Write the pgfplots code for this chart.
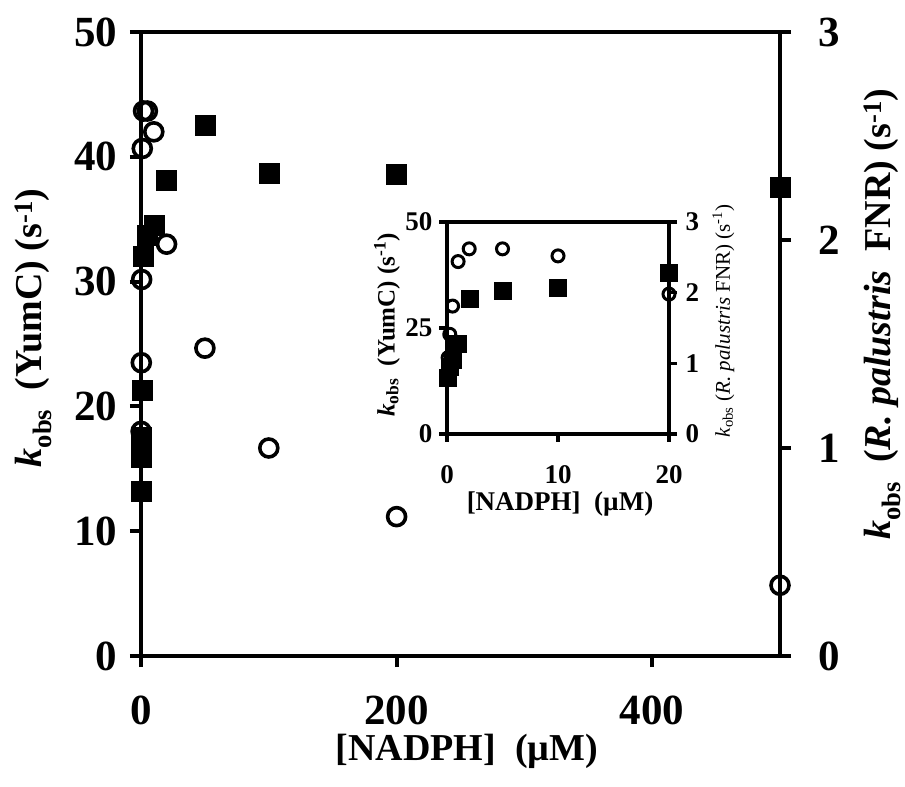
\documentclass[border=0pt]{standalone}
\usepackage{fontspec}
\setmainfont{Liberation Serif}
\usepackage{pgfplots}
\pgfplotsset{compat=1.18}

% k_obs rates versus NADPH concentration
\pgfplotstableread{
x     y
0.1   13.2
0.25  15.9
0.5   17.5
1     21.3
2     32.0
5     33.7
10    34.5
20    38.1
50    42.5
100   38.7
200   38.6
500   37.6
}\yumc
\pgfplotstableread{
x     y
0.1   1.08
0.25  1.41
0.5   1.81
1     2.44
2     2.62
5     2.62
10    2.52
20    1.98
50    1.48
100   1.00
200   0.67
500   0.34
}\fnr

\newcommand{\kobs}{\textit{k}\textsubscript{obs}}

\pgfplotsset{
  common/.style={
    scale only axis, anchor=south west, clip=false,
    tick align=outside,
    /pgf/number format/assume math mode=true,
  },
  mainax/.style={
    common, at={(141pt,131pt)},
    width=639pt, height=624pt,
    xmin=0, xmax=500,
    axis line style={line width=4pt},
    every tick/.style={line width=4pt, black},
    major tick length=11pt,
    ticklabel style={font=\fontsize{43}{46}\selectfont\bfseries},
    label style={font=\fontsize{38}{42}\selectfont\bfseries},
  },
  insetax/.style={
    common, at={(447pt,353pt)},
    width=222pt, height=212pt,
    xmin=0, xmax=20,
    axis line style={line width=3.3pt},
    every tick/.style={line width=3.3pt, black},
    major tick length=8pt,
    ticklabel style={font=\fontsize{27}{29}\selectfont\bfseries},
  },
}

\begin{document}
\begin{tikzpicture}[x=1pt,y=1pt]
\path[use as bounding box] (0,0) rectangle (905,787);

% main plot, left scale (YumC)
\begin{axis}[mainax,
  ymin=0, ymax=50, ytick={0,10,20,30,40,50},
  xtick={0,200,400},
  xtick pos=bottom, ytick pos=left,
  xticklabel style={yshift=-25pt},
  yticklabel style={xshift=-9pt},
  xlabel={[NADPH]\ \ (µM)},
  xlabel style={at={(rel axis cs:0.51,-0.153)}, anchor=center},
  ylabel={\kobs\ \ (YumC) (s\textsuperscript{-1})},
  ylabel style={at={(rel axis cs:-0.168,0.526)}, anchor=center},
]
\addplot[only marks, mark=square*, mark size=10pt, black] table {\yumc};
\end{axis}

% main plot, right scale (R. palustris FNR)
\begin{axis}[mainax,
  ymin=0, ymax=3, ytick={0,1,2,3},
  axis x line=none, axis y line*=right,
  yticklabel style={xshift=24pt},
  ylabel={\kobs\ \ (\textit{R. palustris}\ \ FNR) (s\textsuperscript{-1})},
  ylabel style={at={(rel axis cs:1.16,0.548)}, anchor=center, rotate=0},
]
\addplot[only marks, mark=o, mark size=9pt, line width=3.6pt, black] table {\fnr};
\end{axis}

% inset, left scale
\begin{axis}[insetax,
  ymin=0, ymax=50, ytick={0,25,50},
  xtick={0,10,20},
  xtick pos=bottom, ytick pos=left,
  xticklabel style={yshift=-20pt},
  yticklabel style={xshift=-3pt},
  xlabel={[NADPH]\ \ (µM)},
  xlabel style={at={(rel axis cs:0.509,-0.33)}, anchor=center,
    font=\fontsize{27}{30}\selectfont\bfseries},
  ylabel={\kobs\ \ (YumC) (s\textsuperscript{-1})},
  ylabel style={at={(rel axis cs:-0.27,0.514)}, anchor=center,
    font=\fontsize{25}{28}\selectfont\bfseries},
]
\addplot[only marks, mark=square*, mark size=8.5pt, black]
  table[restrict x to domain=0:20] {\yumc};
\end{axis}

% inset, right scale
\begin{axis}[insetax,
  ymin=0, ymax=3, ytick={0,1,2,3},
  axis x line=none, axis y line*=right,
  yticklabel style={xshift=5pt},
  ylabel={\kobs\ (\textit{R. palustris} FNR) (s\textsuperscript{-1})},
  ylabel style={at={(rel axis cs:1.245,0.533)}, anchor=center, rotate=0,
    font=\fontsize{21}{24}\selectfont},
]
\addplot[only marks, mark=o, mark size=6pt, line width=3pt, black]
  table[restrict x to domain=0:20] {\fnr};
\end{axis}
\end{tikzpicture}
\end{document}
